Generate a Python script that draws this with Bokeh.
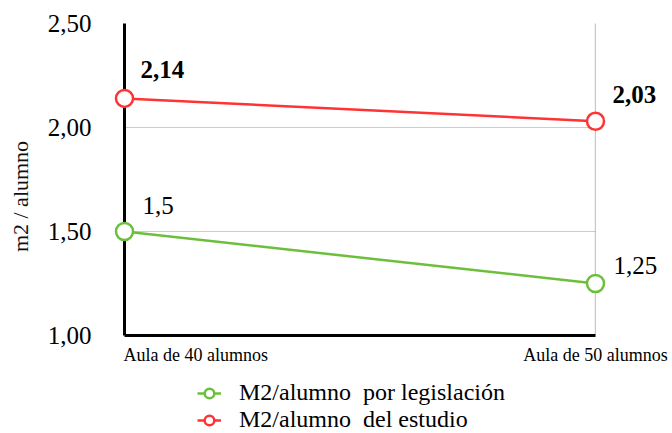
from math import pi
from bokeh.plotting import figure
from bokeh.layouts import column
from bokeh.models import (ColumnDataSource, Range1d, FixedTicker, Span,
                          Legend, LegendItem)
from bokeh.embed import file_html
from bokeh.resources import INLINE

# ---- data ----
categories = ["Aula de 40 alumnos", "Aula de 50 alumnos"]
legislacion = [1.5, 1.25]
estudio = [2.14, 2.03]
y_ticks = [1.0, 1.5, 2.0, 2.5]
y_tick_labels = ["1,00", "1,50", "2,00", "2,50"]
series_names = ["M2/alumno  por legislación", "M2/alumno  del estudio"]
y_title = "m2 / alumno"

FONT = "Liberation Serif"
GREEN = "#6cbf3c"
RED = "#ff3333"

xs = list(range(len(categories)))


def fmt(v):
    return str(v).replace(".", ",")


p = figure(width=672, height=372, output_backend="svg", toolbar_location=None,
           x_range=Range1d(0, len(categories) - 1), y_range=Range1d(1.0, 2.5),
           min_border_left=124, min_border_right=77, min_border_top=23,
           min_border_bottom=37)
p.outline_line_color = None
p.background_fill_color = "white"

# axes
p.xaxis.ticker = FixedTicker(ticks=xs)
p.xaxis.axis_line_width = 3
p.xaxis.axis_line_color = "black"
p.xaxis.major_tick_line_color = None
p.xaxis.minor_tick_line_color = None
p.xaxis.major_label_text_font_size = "1px"
p.xaxis.major_label_text_alpha = 0
p.xaxis.major_label_standoff = 0

p.yaxis.ticker = FixedTicker(ticks=y_ticks)
p.yaxis.major_label_overrides = {t: l for t, l in zip(y_ticks, y_tick_labels)}
p.yaxis.axis_line_width = 3
p.yaxis.axis_line_color = "black"
p.yaxis.major_tick_line_color = None
p.yaxis.minor_tick_line_color = None
p.yaxis.major_label_standoff = 27
p.yaxis.major_label_text_font = FONT
p.yaxis.major_label_text_font_size = "25px"
p.yaxis.major_label_text_color = "black"

p.xgrid.grid_line_color = None
p.ygrid.grid_line_color = "#cccccc"
p.ygrid.grid_line_width = 1

p.add_layout(Span(location=len(categories) - 1, dimension="height",
                  line_color="#222222", line_dash="1 1", line_width=1.2))

src_g = ColumnDataSource(dict(x=xs, y=legislacion,
                              t=[fmt(v) for v in legislacion],
                              dx=[18, 18], dy=[-26, -18]))
src_r = ColumnDataSource(dict(x=xs, y=estudio,
                              t=[fmt(v) for v in estudio],
                              dx=[16, 17], dy=[-29, -27]))

for src, col in ((src_g, GREEN), (src_r, RED)):
    p.line("x", "y", source=src, line_color=col, line_width=2.5)
    p.scatter("x", "y", source=src, size=17, fill_color="white",
              line_color=col, line_width=2.5, level="overlay")

# value labels
p.text("x", "y", text="t", source=src_g, x_offset="dx", y_offset="dy",
       text_font=FONT, text_font_size="25px", text_baseline="middle",
       text_align="left", text_color="black", level="overlay")
p.text("x", "y", text="t", source=src_r, x_offset="dx", y_offset="dy",
       text_font=FONT, text_font_size="25px", text_font_style="bold",
       text_baseline="middle", text_align="left", text_color="black",
       level="overlay")

# category labels
p.text(x=[xs[0]], y=[y_ticks[0]], text=[categories[0]], x_offset=-1,
       y_offset=9, text_font=FONT, text_font_size="18px",
       text_baseline="top", text_align="left", text_color="black",
       level="overlay")
p.text(x=[xs[1]], y=[y_ticks[0]], text=[categories[1]], x_offset=0,
       y_offset=9, text_font=FONT, text_font_size="18px",
       text_baseline="top", text_align="center", text_color="black",
       level="overlay")

# y axis title
p.text(x=[xs[0]], y=[(y_ticks[0] + y_ticks[-1]) / 2], text=[y_title],
       x_offset=-104, y_offset=17, angle=pi / 2, text_font=FONT,
       text_font_size="22px", text_align="center", text_baseline="middle",
       text_color="#111111", level="overlay")

# legend in a separate strip below (frame aligned with the plot above)
q = figure(width=672, height=61, output_backend="svg", toolbar_location=None,
           x_axis_location=None, y_axis_location=None,
           x_range=Range1d(0, 1), y_range=Range1d(0, 1),
           min_border_left=124, min_border_right=77, min_border_top=0,
           min_border_bottom=0)
q.outline_line_color = None
q.xgrid.grid_line_color = None
q.ygrid.grid_line_color = None
items = []
for name, col, vals in zip(series_names, (GREEN, RED), (legislacion, estudio)):
    # same series, drawn out of this strip's visible range; only the legend shows
    off = ColumnDataSource(dict(x=[v - 10 for v in xs], y=vals))
    l = q.line("x", "y", source=off, line_color=col, line_width=2.5)
    s = q.scatter("x", "y", source=off, size=17, fill_color="white",
                  line_color=col, line_width=2.5)
    items.append(LegendItem(label=name, renderers=[l, s]))
legend = Legend(items=items, location=(73, 0), orientation="vertical",
                label_text_font=FONT, label_text_font_size="24px",
                label_text_color="black", glyph_width=24, glyph_height=26,
                label_standoff=18, spacing=-5, padding=0, margin=0,
                border_line_color=None, background_fill_alpha=0,
                label_height=23)
q.add_layout(legend)

open("out.html", "w").write(file_html(column(p, q, spacing=0), INLINE))
